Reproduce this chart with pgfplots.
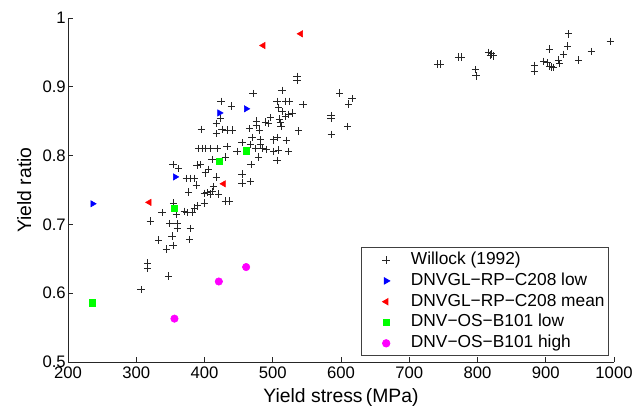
\documentclass[border=0pt]{standalone}
\usepackage{fontspec}
\setmainfont{Liberation Sans}
\usepackage{pgfplots}
\pgfplotsset{compat=1.18}
\definecolor{mblue}{rgb}{0,0,1}
\definecolor{mred}{rgb}{1,0,0}
\definecolor{mgreen}{rgb}{0,1,0}
\definecolor{mmag}{rgb}{1,0,1}
\pgfplotstableread{
x y
424.2 0.879
439.3 0.872
471.1 0.890
423.1 0.854
417.3 0.847
395.3 0.838
417.3 0.832
425.6 0.838
433.0 0.837
440.3 0.837
391.4 0.810
396.3 0.810
401.2 0.810
408.5 0.810
418.3 0.810
433.0 0.813
447.6 0.806
455.0 0.819
467.1 0.816
481.8 0.816
469.6 0.826
481.8 0.823
474.4 0.810
484.2 0.811
490.6 0.809
501.2 0.806
508.6 0.808
523.2 0.806
501.2 0.823
506.2 0.826
519.9 0.822
411.0 0.794
430.5 0.798
479.3 0.798
506.2 0.793
468.1 0.787
389.0 0.786
393.8 0.787
353.8 0.787
362.0 0.781
406.0 0.780
401.2 0.775
455.0 0.773
455.0 0.760
467.1 0.762
373.3 0.767
379.2 0.767
385.1 0.767
417.3 0.769
388.0 0.757
413.3 0.755
411.0 0.748
403.7 0.746
408.5 0.744
399.7 0.745
420.7 0.744
376.7 0.747
430.5 0.734
436.8 0.734
399.7 0.731
389.9 0.727
385.1 0.724
337.7 0.717
354.7 0.731
358.7 0.715
370.4 0.719
374.4 0.717
381.7 0.717
320.6 0.705
348.9 0.701
359.7 0.701
360.1 0.694
352.4 0.683
379.2 0.694
378.2 0.678
332.7 0.677
353.8 0.669
344.0 0.664
316.6 0.644
316.6 0.636
347.4 0.625
307.0 0.605
535.5 0.915
535.5 0.910
513.6 0.895
506.2 0.879
518.4 0.879
524.7 0.879
544.3 0.874
508.6 0.870
513.6 0.864
523.2 0.860
528.2 0.862
518.4 0.857
496.4 0.855
510.0 0.853
511.1 0.848
512.1 0.842
489.1 0.849
493.9 0.847
475.9 0.850
475.9 0.844
466.1 0.839
480.7 0.837
537.9 0.836
597.9 0.891
616.1 0.883
611.1 0.875
585.3 0.858
585.3 0.854
609.7 0.842
585.8 0.831
741.5 0.933
745.5 0.933
772.3 0.943
775.8 0.943
796.8 0.925
797.8 0.916
816.3 0.950
820.2 0.948
823.6 0.945
818.8 0.946
883.2 0.931
883.2 0.923
896.8 0.937
901.8 0.935
905.6 0.930
911.5 0.928
907.7 0.929
905.2 0.955
918.8 0.939
920.3 0.934
926.2 0.947
932.0 0.959
933.5 0.977
948.1 0.939
966.7 0.951
994.6 0.966
}\willock
\pgfplotstableread{
x y
236 0.730
422 0.862
461 0.868
357 0.769
}\rplow
\pgfplotstableread{
x y
319 0.732
428 0.759
486 0.960
541 0.977
}\rpmean
\pgfplotstableread{
x y
236 0.586
356 0.724
421 0.792
461 0.807
}\oslow
\pgfplotstableread{
x y
356 0.563
421 0.617
461 0.638
}\oshigh
\begin{document}
\begin{tikzpicture}
\begin{axis}[
  scale only axis,
  width=409.5pt, height=258pt,
  xmin=200, xmax=1000, ymin=0.5, ymax=1,
  xtick={200,300,...,1000},
  ytick={0.5,0.6,0.7,0.8,0.9,1},
  axis x line*=bottom, axis y line*=left,
  axis line style={-, black!85, line width=0.6pt},
  tick align=inside,
  major tick length=3.5pt,
  every tick/.style={black!85, line width=0.6pt},
  /pgf/number format/1000 sep={},
  /pgf/number format/assume math mode=true,
  tick label style={font=\fontsize{12.5}{14}\selectfont},
  yticklabel style={inner xsep=1.5pt},
  xlabel={Yield stress\,(MPa)},
  ylabel={Yield ratio},
  label style={font=\fontsize{14.5}{17}\selectfont},
  xlabel style={at={(axis description cs:0.5,0)}, anchor=north, yshift=-19.5pt, inner sep=0pt},
  ylabel style={at={(axis description cs:-0.08,0.5)}, anchor=center, inner sep=0pt},
  legend cell align=left,
  legend style={at={(0.9896,0.0169)}, anchor=south east,
    draw=black!75, line width=0.6pt, fill=white,
    font=\fontsize{13}{15}\selectfont,
    inner xsep=2.5pt, inner ysep=2.6pt, row sep=2.1pt,
    nodes={inner sep=0pt, text height=10pt, text depth=3.5pt}},
  legend image code/.code={\path (0pt,0pt) (34.25pt,0pt); \draw[#1] plot coordinates {(16pt,0pt)};},
]
\addplot[only marks, mark=+, mark size=2.8pt, draw=black!85, mark options={line width=0.55pt}] table[x=x,y=y] {\willock};
\addlegendentry{Willock (1992)}
\addplot[only marks, mark=triangle*, mark size=2.7pt, color=mblue, mark options={rotate=-90}] table[x=x,y=y] {\rplow};
\addlegendentry{DNVGL−RP−C208 low}
\addplot[only marks, mark=triangle*, mark size=2.7pt, color=mred, mark options={rotate=90}] table[x=x,y=y] {\rpmean};
\addlegendentry{DNVGL−RP−C208 mean}
\addplot[only marks, mark=square*, mark size=2.3pt, color=mgreen] table[x=x,y=y] {\oslow};
\addlegendentry{DNV−OS−B101 low}
\addplot[only marks, mark=*, mark size=2.8pt, color=mmag] table[x=x,y=y] {\oshigh};
\addlegendentry{DNV−OS−B101 high}
\end{axis}
\pgfresetboundingbox
\useasboundingbox (-51pt,-32.6pt) rectangle (429.75pt,271.5pt);
\end{tikzpicture}
\end{document}
